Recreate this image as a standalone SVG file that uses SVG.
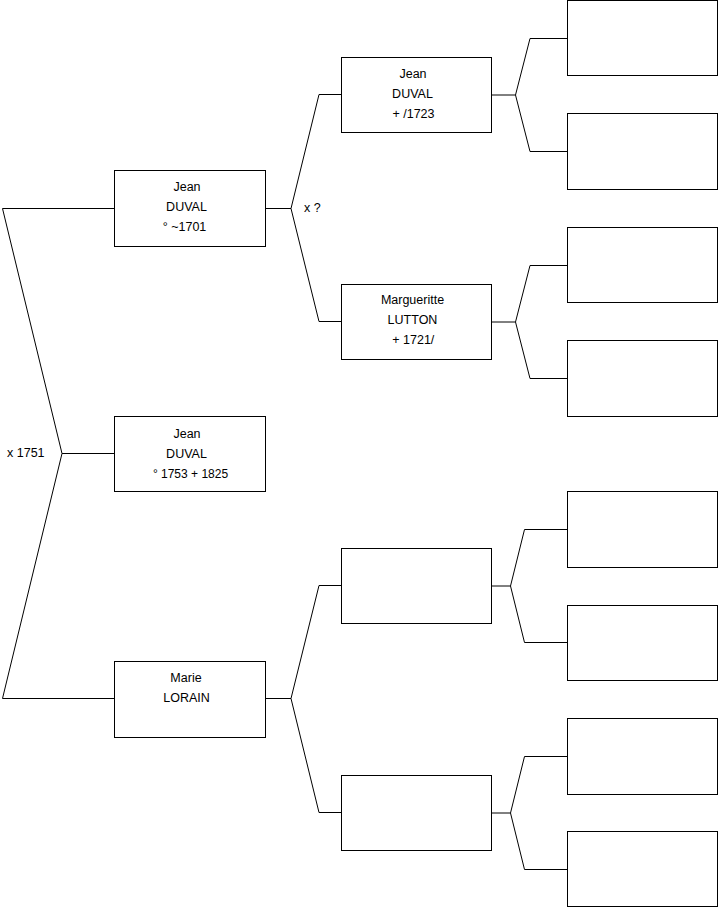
<svg xmlns="http://www.w3.org/2000/svg" width="719" height="908" viewBox="0 0 719 908">
<style>
.box{fill:#fff;stroke:#000;stroke-width:1}
.ln{fill:none;stroke:#000;stroke-width:1}
text{font-family:"Liberation Sans",Arial,sans-serif;font-size:12.5px;fill:#000}
.c{text-anchor:middle}
</style>
<rect width="719" height="908" fill="#fff"/>
<g id="connectors">
<polyline class="ln" points="114,208.5 2.5,208.5 62,453.5 2.5,698.5 114,698.5"/>
<line class="ln" x1="62" y1="453.5" x2="114" y2="453.5"/>
<polyline class="ln" points="341,94.5 319,94.5 291,208.5 319,321.5 341,321.5"/>
<line class="ln" x1="265" y1="208.5" x2="291" y2="208.5"/>
<polyline class="ln" points="341,585.5 319,585.5 291,698.5 319,812.5 341,812.5"/>
<line class="ln" x1="265" y1="698.5" x2="291" y2="698.5"/>
<polyline class="ln" points="567,38.5 530,38.5 515.5,95 530,151.5 567,151.5"/>
<line class="ln" x1="492" y1="95" x2="515.5" y2="95"/>
<polyline class="ln" points="567,265.5 530,265.5 515.5,322 530,378.5 567,378.5"/>
<line class="ln" x1="492" y1="322" x2="515.5" y2="322"/>
<polyline class="ln" points="567,529.5 524.5,529.5 510.5,586 524.5,642.5 567,642.5"/>
<line class="ln" x1="492" y1="586" x2="510.5" y2="586"/>
<polyline class="ln" points="567,756.5 524.5,756.5 510.5,813 524.5,869.5 567,869.5"/>
<line class="ln" x1="492" y1="813" x2="510.5" y2="813"/>
<text x="7" y="456.5">x 1751</text>
<text x="304" y="211.5">x ?</text>
</g>
<g id="n-jean-father">
<rect class="box" x="114.5" y="170.5" width="151" height="76"/>
<text class="c" x="187" y="191">Jean</text>
<text class="c" x="186.5" y="211">DUVAL</text>
<text class="c" x="184.5" y="231">° ~1701</text>
</g>
<g id="n-jean-root">
<rect class="box" x="114.5" y="416.5" width="151" height="75"/>
<text class="c" x="187" y="438">Jean</text>
<text class="c" x="186.5" y="458">DUVAL</text>
<text class="c" x="190.5" y="478" style="font-size:12px">° 1753 + 1825</text>
</g>
<g id="n-marie">
<rect class="box" x="114.5" y="661.5" width="151" height="76"/>
<text class="c" x="186" y="682">Marie</text>
<text class="c" x="186.5" y="702">LORAIN</text>
</g>
<g id="n-jean-gf">
<rect class="box" x="341.5" y="57.5" width="150" height="75"/>
<text class="c" x="413" y="78">Jean</text>
<text class="c" x="412.5" y="98">DUVAL</text>
<text class="c" x="413.5" y="118">+ /1723</text>
</g>
<g id="n-margueritte">
<rect class="box" x="341.5" y="284.5" width="150" height="75"/>
<text class="c" x="412.5" y="304">Margueritte</text>
<text class="c" x="412.5" y="324">LUTTON</text>
<text class="c" x="413.3" y="344">+ 1721/</text>
</g>
<g id="n-mgf">
<rect class="box" x="341.5" y="548.5" width="150" height="75"/>
</g>
<g id="n-mgm">
<rect class="box" x="341.5" y="775.5" width="150" height="75"/>
</g>
<g id="n-g1"><rect class="box" x="567.5" y="0.5" width="150" height="75"/></g>
<g id="n-g2"><rect class="box" x="567.5" y="113.5" width="150" height="76"/></g>
<g id="n-g3"><rect class="box" x="567.5" y="227.5" width="150" height="75"/></g>
<g id="n-g4"><rect class="box" x="567.5" y="340.5" width="150" height="76"/></g>
<g id="n-g5"><rect class="box" x="567.5" y="491.5" width="150" height="76"/></g>
<g id="n-g6"><rect class="box" x="567.5" y="605.5" width="150" height="75"/></g>
<g id="n-g7"><rect class="box" x="567.5" y="718.5" width="150" height="76"/></g>
<g id="n-g8"><rect class="box" x="567.5" y="831.5" width="150" height="75"/></g>
</svg>
